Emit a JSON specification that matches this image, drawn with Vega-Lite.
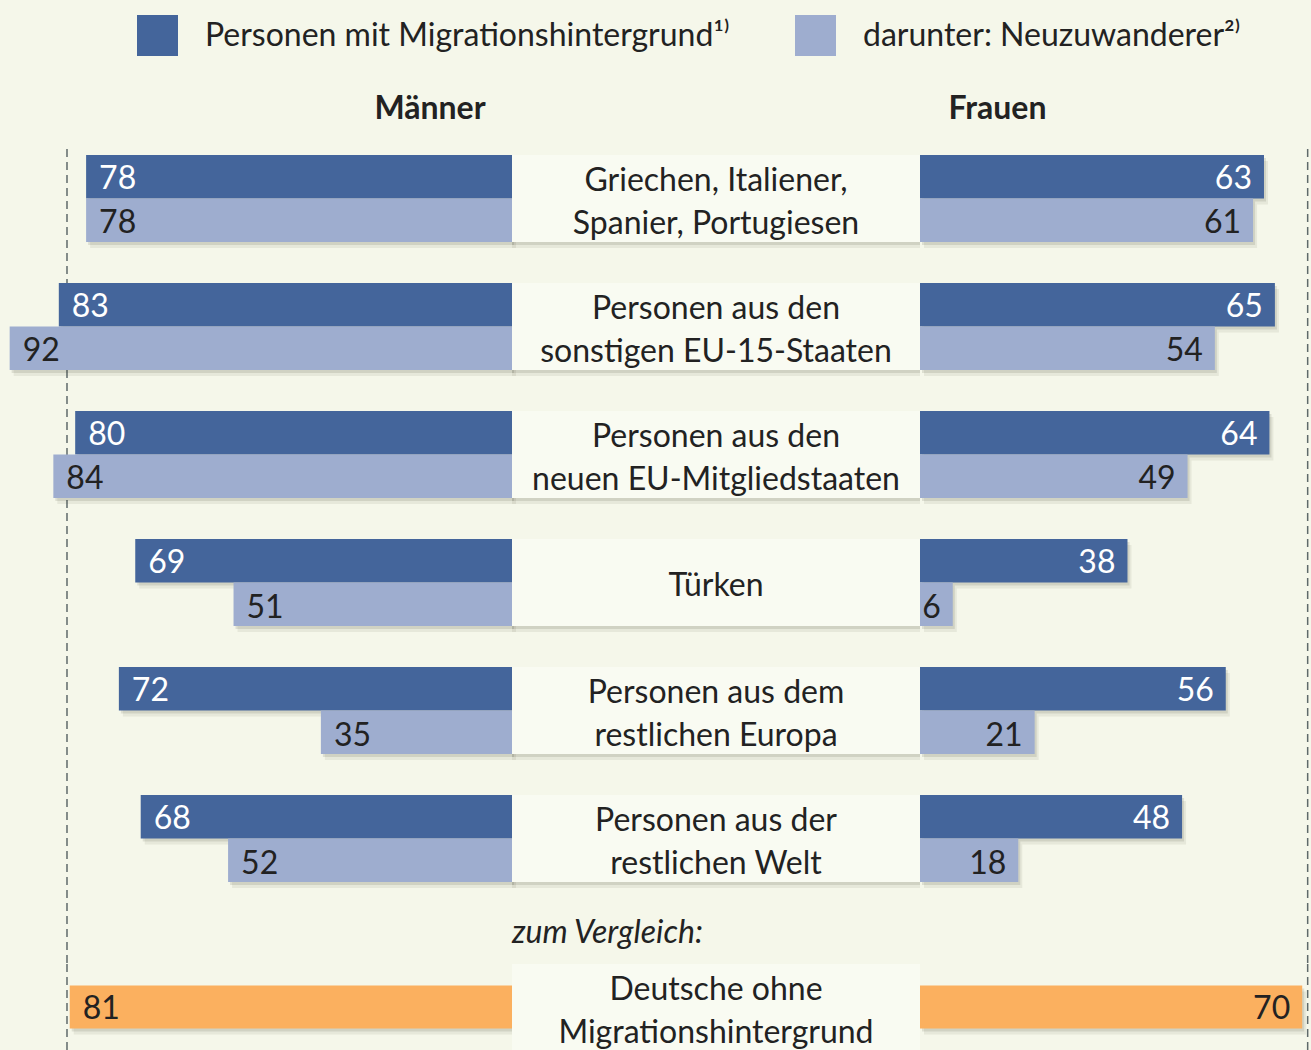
{
  "$schema": "https://vega.github.io/schema/vega-lite/v6.json",
  "background": "#f5f7ea",
  "padding": {"top": 15, "left": 0, "right": 0, "bottom": 0},
  "bounds": "flush",
  "align": "each",
  "spacing": 0,
  "columns": 3,
  "config": {
    "view": {"stroke": null},
    "font": "Lato",
    "concat": {"spacing": 0},
    "legend": {
      "title": null,
      "direction": "horizontal",
      "symbolType": "square",
      "symbolSize": 1681,
      "symbolStrokeWidth": 0,
      "symbolOpacity": 1,
      "labelFontSize": 32,
      "labelFont": "Lato",
      "labelColor": "#222222",
      "labelLimit": 1000,
      "labelOffset": 27,
      "columnPadding": 65,
      "padding": 0
    }
  },
  "datasets": {
    "main": [
      {"gruppe": "Griechen, Italiener,\nSpanier, Portugiesen", "geschlecht": "Männer", "serie": "Personen mit Migrationshintergrund¹⁾", "wert": 78},
      {"gruppe": "Griechen, Italiener,\nSpanier, Portugiesen", "geschlecht": "Männer", "serie": "darunter: Neuzuwanderer²⁾", "wert": 78},
      {"gruppe": "Griechen, Italiener,\nSpanier, Portugiesen", "geschlecht": "Frauen", "serie": "Personen mit Migrationshintergrund¹⁾", "wert": 63},
      {"gruppe": "Griechen, Italiener,\nSpanier, Portugiesen", "geschlecht": "Frauen", "serie": "darunter: Neuzuwanderer²⁾", "wert": 61},
      {"gruppe": "Personen aus den\nsonstigen EU-15-Staaten", "geschlecht": "Männer", "serie": "Personen mit Migrationshintergrund¹⁾", "wert": 83},
      {"gruppe": "Personen aus den\nsonstigen EU-15-Staaten", "geschlecht": "Männer", "serie": "darunter: Neuzuwanderer²⁾", "wert": 92},
      {"gruppe": "Personen aus den\nsonstigen EU-15-Staaten", "geschlecht": "Frauen", "serie": "Personen mit Migrationshintergrund¹⁾", "wert": 65},
      {"gruppe": "Personen aus den\nsonstigen EU-15-Staaten", "geschlecht": "Frauen", "serie": "darunter: Neuzuwanderer²⁾", "wert": 54},
      {"gruppe": "Personen aus den\nneuen EU-Mitgliedstaaten", "geschlecht": "Männer", "serie": "Personen mit Migrationshintergrund¹⁾", "wert": 80},
      {"gruppe": "Personen aus den\nneuen EU-Mitgliedstaaten", "geschlecht": "Männer", "serie": "darunter: Neuzuwanderer²⁾", "wert": 84},
      {"gruppe": "Personen aus den\nneuen EU-Mitgliedstaaten", "geschlecht": "Frauen", "serie": "Personen mit Migrationshintergrund¹⁾", "wert": 64},
      {"gruppe": "Personen aus den\nneuen EU-Mitgliedstaaten", "geschlecht": "Frauen", "serie": "darunter: Neuzuwanderer²⁾", "wert": 49},
      {"gruppe": "Türken", "geschlecht": "Männer", "serie": "Personen mit Migrationshintergrund¹⁾", "wert": 69},
      {"gruppe": "Türken", "geschlecht": "Männer", "serie": "darunter: Neuzuwanderer²⁾", "wert": 51},
      {"gruppe": "Türken", "geschlecht": "Frauen", "serie": "Personen mit Migrationshintergrund¹⁾", "wert": 38},
      {"gruppe": "Türken", "geschlecht": "Frauen", "serie": "darunter: Neuzuwanderer²⁾", "wert": 6},
      {"gruppe": "Personen aus dem\nrestlichen Europa", "geschlecht": "Männer", "serie": "Personen mit Migrationshintergrund¹⁾", "wert": 72},
      {"gruppe": "Personen aus dem\nrestlichen Europa", "geschlecht": "Männer", "serie": "darunter: Neuzuwanderer²⁾", "wert": 35},
      {"gruppe": "Personen aus dem\nrestlichen Europa", "geschlecht": "Frauen", "serie": "Personen mit Migrationshintergrund¹⁾", "wert": 56},
      {"gruppe": "Personen aus dem\nrestlichen Europa", "geschlecht": "Frauen", "serie": "darunter: Neuzuwanderer²⁾", "wert": 21},
      {"gruppe": "Personen aus der\nrestlichen Welt", "geschlecht": "Männer", "serie": "Personen mit Migrationshintergrund¹⁾", "wert": 68},
      {"gruppe": "Personen aus der\nrestlichen Welt", "geschlecht": "Männer", "serie": "darunter: Neuzuwanderer²⁾", "wert": 52},
      {"gruppe": "Personen aus der\nrestlichen Welt", "geschlecht": "Frauen", "serie": "Personen mit Migrationshintergrund¹⁾", "wert": 48},
      {"gruppe": "Personen aus der\nrestlichen Welt", "geschlecht": "Frauen", "serie": "darunter: Neuzuwanderer²⁾", "wert": 18}
    ],
    "vergleich": [
      {"gruppe": "Deutsche ohne\nMigrationshintergrund", "geschlecht": "Männer", "wert": 81},
      {"gruppe": "Deutsche ohne\nMigrationshintergrund", "geschlecht": "Frauen", "wert": 70}
    ]
  },
  "resolve": {"scale": {"color": "shared"}},
  "concat": [
    {
      "width": 512,
      "height": 815,
      "title": {"text": "Männer", "anchor": "middle", "dx": 174, "offset": 22, "fontSize": 32, "fontWeight": "bold", "color": "#222222", "font": "Lato"},
      "resolve": {"scale": {"yOffset": "independent"}},
      "layer": [
        {
          "data": {"values": [{}]},
          "mark": {"type": "rule", "strokeDash": [8, 5], "strokeWidth": 1.5, "color": "#5f6a6a"},
          "encoding": {"x": {"datum": 81.5, "type": "quantitative", "scale": {"domain": [0, 93.77], "reverse": true, "nice": false}, "axis": null}}
        },
        {
          "data": {"name": "main"},
          "transform": [{"filter": "datum.geschlecht === 'Männer'"}],
          "mark": {"type": "bar", "color": "#3c3c2c", "opacity": 0.08, "xOffset": 4, "x2Offset": 4},
          "encoding": {
            "x": {"field": "wert", "type": "quantitative", "scale": {"domain": [0, 93.77], "reverse": true, "nice": false}, "axis": null},
            "y": {"field": "gruppe", "type": "nominal", "axis": null, "scale": {"domain": ["Griechen, Italiener,\nSpanier, Portugiesen", "Personen aus den\nsonstigen EU-15-Staaten", "Personen aus den\nneuen EU-Mitgliedstaaten", "Türken", "Personen aus dem\nrestlichen Europa", "Personen aus der\nrestlichen Welt"], "paddingInner": 0.32, "paddingOuter": 0.3434, "align": 0.068}},
            "yOffset": {"field": "serie", "type": "nominal", "scale": {"domain": ["Personen mit Migrationshintergrund¹⁾", "darunter: Neuzuwanderer²⁾"], "range": [6, 93.05]}}
          }
        },
        {
          "data": {"name": "main"},
          "transform": [{"filter": "datum.geschlecht === 'Männer'"}],
          "mark": {"type": "bar", "color": "#3c3c2c", "opacity": 0.13, "xOffset": 2, "x2Offset": 2},
          "encoding": {
            "x": {"field": "wert", "type": "quantitative", "scale": {"domain": [0, 93.77], "reverse": true, "nice": false}, "axis": null},
            "y": {"field": "gruppe", "type": "nominal", "axis": null},
            "yOffset": {"field": "serie", "type": "nominal", "scale": {"domain": ["Personen mit Migrationshintergrund¹⁾", "darunter: Neuzuwanderer²⁾"], "range": [3, 90.05]}}
          }
        },
        {
          "data": {"name": "main"},
          "transform": [{"filter": "datum.geschlecht === 'Männer'"}],
          "mark": {"type": "bar"},
          "encoding": {
            "x": {"field": "wert", "type": "quantitative", "scale": {"domain": [0, 93.77], "reverse": true, "nice": false}, "axis": null},
            "y": {"field": "gruppe", "type": "nominal", "axis": null},
            "yOffset": {"field": "serie", "type": "nominal", "scale": {"domain": ["Personen mit Migrationshintergrund¹⁾", "darunter: Neuzuwanderer²⁾"], "paddingInner": 0, "paddingOuter": 0}},
            "color": {"field": "serie", "type": "nominal", "scale": {"domain": ["Personen mit Migrationshintergrund¹⁾", "darunter: Neuzuwanderer²⁾"], "range": ["#44659b", "#9eadcf"]}, "legend": {"orient": "none", "legendX": 137, "legendY": -134}}
          }
        },
        {
          "data": {"name": "main"},
          "transform": [{"filter": "datum.geschlecht === 'Männer'"}],
          "mark": {"type": "text", "align": "left", "dx": 13, "dy": 2, "baseline": "middle", "fontSize": 32, "font": "Lato"},
          "encoding": {
            "x": {"field": "wert", "type": "quantitative", "scale": {"domain": [0, 93.77], "reverse": true, "nice": false}, "axis": null},
            "y": {"field": "gruppe", "type": "nominal", "axis": null},
            "yOffset": {"field": "serie", "type": "nominal", "scale": {"type": "point", "padding": 0, "domain": ["Personen mit Migrationshintergrund¹⁾", "darunter: Neuzuwanderer²⁾"], "range": [21.76, 66.5]}},
            "text": {"field": "wert", "type": "quantitative"},
            "color": {"condition": {"test": "datum.serie === 'Personen mit Migrationshintergrund¹⁾'", "value": "#ffffff"}, "value": "#222222"}
          }
        }
      ]
    },
    {
      "width": 408,
      "height": 815,
      "data": {"name": "main"},
      "transform": [{"filter": "datum.geschlecht === 'Männer' && datum.serie === 'darunter: Neuzuwanderer²⁾'"}],
      "encoding": {
        "y": {"field": "gruppe", "type": "nominal", "axis": null, "scale": {"domain": ["Griechen, Italiener,\nSpanier, Portugiesen", "Personen aus den\nsonstigen EU-15-Staaten", "Personen aus den\nneuen EU-Mitgliedstaaten", "Türken", "Personen aus dem\nrestlichen Europa", "Personen aus der\nrestlichen Welt"], "paddingInner": 0.32, "paddingOuter": 0.3434, "align": 0.068}}
      },
      "layer": [
        {"mark": {"type": "rect", "color": "#3c3c2c", "opacity": 0.08, "yOffset": 6, "y2Offset": 6}},
        {"mark": {"type": "rect", "color": "#3c3c2c", "opacity": 0.13, "yOffset": 3, "y2Offset": 3}},
        {"mark": {"type": "rect", "color": "#f9fbf2"}},
        {
          "transform": [{"filter": "indexof(datum.gruppe, '\\n') >= 0"}],
          "mark": {"type": "text", "fontSize": 32, "font": "Lato", "lineBreak": "\n", "lineHeight": 43, "color": "#222222", "baseline": "middle", "dy": -17.5},
          "encoding": {"text": {"field": "gruppe", "type": "nominal"}}
        },
        {
          "transform": [{"filter": "indexof(datum.gruppe, '\\n') < 0"}],
          "mark": {"type": "text", "fontSize": 32, "font": "Lato", "color": "#222222", "baseline": "middle", "dy": 3},
          "encoding": {"text": {"field": "gruppe", "type": "nominal"}}
        }
      ]
    },
    {
      "width": 391,
      "height": 815,
      "title": {"text": "Frauen", "anchor": "middle", "dx": -118, "offset": 22, "fontSize": 32, "fontWeight": "bold", "color": "#222222", "font": "Lato"},
      "resolve": {"scale": {"yOffset": "independent"}},
      "layer": [
        {
          "data": {"values": [{}]},
          "mark": {"type": "rule", "strokeDash": [8, 5], "strokeWidth": 1.5, "color": "#5f6a6a"},
          "encoding": {"x": {"datum": 71, "type": "quantitative", "scale": {"domain": [0, 71.61], "nice": false}, "axis": null}}
        },
        {
          "data": {"name": "main"},
          "transform": [{"filter": "datum.geschlecht === 'Frauen'"}],
          "mark": {"type": "bar", "color": "#3c3c2c", "opacity": 0.08, "xOffset": 4, "x2Offset": 4},
          "encoding": {
            "x": {"field": "wert", "type": "quantitative", "scale": {"domain": [0, 71.61], "nice": false}, "axis": null},
            "y": {"field": "gruppe", "type": "nominal", "axis": null, "scale": {"domain": ["Griechen, Italiener,\nSpanier, Portugiesen", "Personen aus den\nsonstigen EU-15-Staaten", "Personen aus den\nneuen EU-Mitgliedstaaten", "Türken", "Personen aus dem\nrestlichen Europa", "Personen aus der\nrestlichen Welt"], "paddingInner": 0.32, "paddingOuter": 0.3434, "align": 0.068}},
            "yOffset": {"field": "serie", "type": "nominal", "scale": {"domain": ["Personen mit Migrationshintergrund¹⁾", "darunter: Neuzuwanderer²⁾"], "range": [6, 93.05]}}
          }
        },
        {
          "data": {"name": "main"},
          "transform": [{"filter": "datum.geschlecht === 'Frauen'"}],
          "mark": {"type": "bar", "color": "#3c3c2c", "opacity": 0.13, "xOffset": 2, "x2Offset": 2},
          "encoding": {
            "x": {"field": "wert", "type": "quantitative", "scale": {"domain": [0, 71.61], "nice": false}, "axis": null},
            "y": {"field": "gruppe", "type": "nominal", "axis": null},
            "yOffset": {"field": "serie", "type": "nominal", "scale": {"domain": ["Personen mit Migrationshintergrund¹⁾", "darunter: Neuzuwanderer²⁾"], "range": [3, 90.05]}}
          }
        },
        {
          "data": {"name": "main"},
          "transform": [{"filter": "datum.geschlecht === 'Frauen'"}],
          "mark": {"type": "bar"},
          "encoding": {
            "x": {"field": "wert", "type": "quantitative", "scale": {"domain": [0, 71.61], "nice": false}, "axis": null},
            "y": {"field": "gruppe", "type": "nominal", "axis": null},
            "yOffset": {"field": "serie", "type": "nominal", "scale": {"domain": ["Personen mit Migrationshintergrund¹⁾", "darunter: Neuzuwanderer²⁾"], "paddingInner": 0, "paddingOuter": 0}},
            "color": {"field": "serie", "type": "nominal", "scale": {"domain": ["Personen mit Migrationshintergrund¹⁾", "darunter: Neuzuwanderer²⁾"], "range": ["#44659b", "#9eadcf"]}, "legend": {"orient": "none", "legendX": 137, "legendY": -134}}
          }
        },
        {
          "data": {"name": "main"},
          "transform": [{"filter": "datum.geschlecht === 'Frauen'"}],
          "mark": {"type": "text", "align": "right", "dx": -12, "dy": 2, "baseline": "middle", "fontSize": 32, "font": "Lato"},
          "encoding": {
            "x": {"field": "wert", "type": "quantitative", "scale": {"domain": [0, 71.61], "nice": false}, "axis": null},
            "y": {"field": "gruppe", "type": "nominal", "axis": null},
            "yOffset": {"field": "serie", "type": "nominal", "scale": {"type": "point", "padding": 0, "domain": ["Personen mit Migrationshintergrund¹⁾", "darunter: Neuzuwanderer²⁾"], "range": [21.76, 66.5]}},
            "text": {"field": "wert", "type": "quantitative"},
            "color": {"condition": {"test": "datum.serie === 'Personen mit Migrationshintergrund¹⁾'", "value": "#ffffff"}, "value": "#222222"}
          }
        }
      ]
    },
    {
      "width": 512,
      "height": 86,
      "layer": [
        {
          "data": {"values": [{}]},
          "mark": {"type": "rule", "strokeDash": [8, 5], "strokeWidth": 1.5, "color": "#5f6a6a"},
          "encoding": {"x": {"datum": 81.5, "type": "quantitative", "scale": {"domain": [0, 93.77], "reverse": true, "nice": false}, "axis": null}}
        },
        {
          "data": {"name": "vergleich"},
          "transform": [{"filter": "datum.geschlecht === 'Männer'"}],
          "mark": {"type": "bar", "height": {"band": 0.5}, "color": "#3c3c2c", "opacity": 0.08, "xOffset": 4, "x2Offset": 4, "yOffset": 6},
          "encoding": {
            "x": {"field": "wert", "type": "quantitative", "scale": {"domain": [0, 93.77], "reverse": true, "nice": false}, "axis": null},
            "y": {"field": "gruppe", "type": "nominal", "axis": null, "scale": {"paddingInner": 0, "paddingOuter": 0}}
          }
        },
        {
          "data": {"name": "vergleich"},
          "transform": [{"filter": "datum.geschlecht === 'Männer'"}],
          "mark": {"type": "bar", "height": {"band": 0.5}, "color": "#3c3c2c", "opacity": 0.13, "xOffset": 2, "x2Offset": 2, "yOffset": 3},
          "encoding": {
            "x": {"field": "wert", "type": "quantitative", "scale": {"domain": [0, 93.77], "reverse": true, "nice": false}, "axis": null},
            "y": {"field": "gruppe", "type": "nominal", "axis": null}
          }
        },
        {
          "data": {"name": "vergleich"},
          "transform": [{"filter": "datum.geschlecht === 'Männer'"}],
          "mark": {"type": "bar", "height": {"band": 0.5}, "color": "#fbb05f"},
          "encoding": {
            "x": {"field": "wert", "type": "quantitative", "scale": {"domain": [0, 93.77], "reverse": true, "nice": false}, "axis": null},
            "y": {"field": "gruppe", "type": "nominal", "axis": null}
          }
        },
        {
          "data": {"name": "vergleich"},
          "transform": [{"filter": "datum.geschlecht === 'Männer'"}],
          "mark": {"type": "text", "align": "left", "dx": 13, "dy": 2, "baseline": "middle", "fontSize": 32, "font": "Lato", "color": "#222222"},
          "encoding": {
            "x": {"field": "wert", "type": "quantitative", "scale": {"domain": [0, 93.77], "reverse": true, "nice": false}, "axis": null},
            "y": {"field": "gruppe", "type": "nominal", "axis": null},
            "text": {"field": "wert", "type": "quantitative"}
          }
        }
      ]
    },
    {
      "width": 408,
      "height": 86,
      "title": {"text": "zum Vergleich:", "anchor": "start", "offset": 14, "fontSize": 32, "fontStyle": "italic", "fontWeight": "normal", "color": "#222222", "font": "Lato"},
      "data": {"name": "vergleich"},
      "transform": [{"filter": "datum.geschlecht === 'Männer'"}],
      "encoding": {
        "y": {"field": "gruppe", "type": "nominal", "axis": null, "scale": {"paddingInner": 0, "paddingOuter": 0}}
      },
      "layer": [
        {"mark": {"type": "rect", "color": "#3c3c2c", "opacity": 0.08, "yOffset": 6, "y2Offset": 6}},
        {"mark": {"type": "rect", "color": "#3c3c2c", "opacity": 0.13, "yOffset": 3, "y2Offset": 3}},
        {"mark": {"type": "rect", "color": "#f9fbf2"}},
        {"mark": {"type": "text", "fontSize": 32, "font": "Lato", "lineBreak": "\n", "lineHeight": 43, "color": "#222222", "baseline": "middle", "dy": -17.5}, "encoding": {"text": {"field": "gruppe", "type": "nominal"}}}
      ]
    },
    {
      "width": 391,
      "height": 86,
      "layer": [
        {
          "data": {"values": [{}]},
          "mark": {"type": "rule", "strokeDash": [8, 5], "strokeWidth": 1.5, "color": "#5f6a6a"},
          "encoding": {"x": {"datum": 71, "type": "quantitative", "scale": {"domain": [0, 71.61], "nice": false}, "axis": null}}
        },
        {
          "data": {"name": "vergleich"},
          "transform": [{"filter": "datum.geschlecht === 'Frauen'"}],
          "mark": {"type": "bar", "height": {"band": 0.5}, "color": "#3c3c2c", "opacity": 0.08, "xOffset": 4, "x2Offset": 4, "yOffset": 6},
          "encoding": {
            "x": {"field": "wert", "type": "quantitative", "scale": {"domain": [0, 71.61], "nice": false}, "axis": null},
            "y": {"field": "gruppe", "type": "nominal", "axis": null, "scale": {"paddingInner": 0, "paddingOuter": 0}}
          }
        },
        {
          "data": {"name": "vergleich"},
          "transform": [{"filter": "datum.geschlecht === 'Frauen'"}],
          "mark": {"type": "bar", "height": {"band": 0.5}, "color": "#3c3c2c", "opacity": 0.13, "xOffset": 2, "x2Offset": 2, "yOffset": 3},
          "encoding": {
            "x": {"field": "wert", "type": "quantitative", "scale": {"domain": [0, 71.61], "nice": false}, "axis": null},
            "y": {"field": "gruppe", "type": "nominal", "axis": null}
          }
        },
        {
          "data": {"name": "vergleich"},
          "transform": [{"filter": "datum.geschlecht === 'Frauen'"}],
          "mark": {"type": "bar", "height": {"band": 0.5}, "color": "#fbb05f"},
          "encoding": {
            "x": {"field": "wert", "type": "quantitative", "scale": {"domain": [0, 71.61], "nice": false}, "axis": null},
            "y": {"field": "gruppe", "type": "nominal", "axis": null}
          }
        },
        {
          "data": {"name": "vergleich"},
          "transform": [{"filter": "datum.geschlecht === 'Frauen'"}],
          "mark": {"type": "text", "align": "right", "dx": -12, "dy": 2, "baseline": "middle", "fontSize": 32, "font": "Lato", "color": "#222222"},
          "encoding": {
            "x": {"field": "wert", "type": "quantitative", "scale": {"domain": [0, 71.61], "nice": false}, "axis": null},
            "y": {"field": "gruppe", "type": "nominal", "axis": null},
            "text": {"field": "wert", "type": "quantitative"}
          }
        }
      ]
    }
  ]
}
